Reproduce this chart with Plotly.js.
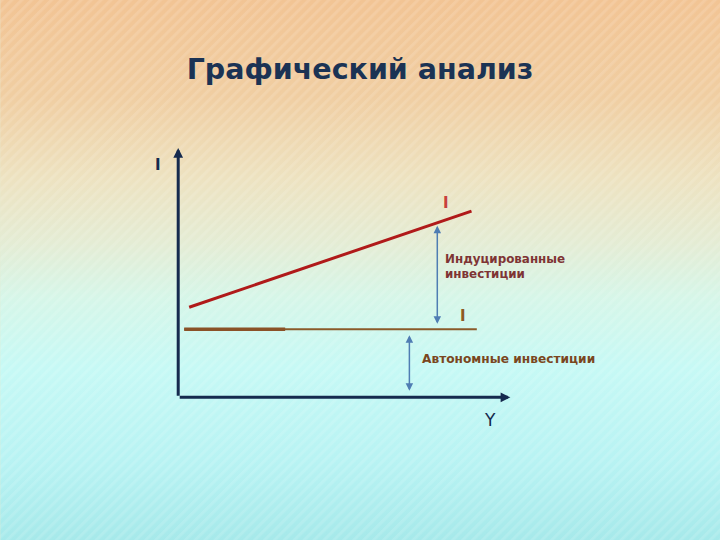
<!DOCTYPE html>
<html>
<head>
<meta charset="utf-8">
<script src="https://cdn.plot.ly/plotly-3.0.1.min.js"></script>
<style>html,body{margin:0;padding:0;}#chart{width:720px;height:540px;}</style>
</head>
<body>
<div id="chart"></div>
<script>
// Induced investment line (income Y vs investment I)
const inducedY = [3.3, 88.3];
const inducedI = [36.4, 75.3];
// Autonomous investment line
const autoY = [1.8, 89.9];
const autoI = [27.5, 27.5];
// Thicker initial part of the autonomous line
const autoBoldY = [1.8, 32.2];
const autoBoldI = [27.5, 27.5];
// Double arrows (x, bottom, top)
const inducedArrow = {x: 78.0, from: 29.1, to: 69.4};
const autoArrow = {x: 69.6, from: 2.0, to: 25.1};
// Labels
const titleText = "Графический анализ";
const axisLabelI = "I";
const axisLabelY = "Y";
const inducedLabel = "Индуцированные<br>инвестиции";
const autoLabel = "Автономные инвестиции";

const svg = "<svg xmlns='http://www.w3.org/2000/svg' width='720' height='540' viewBox='0 0 720 540' preserveAspectRatio='none'>" +
  "<defs><linearGradient id='g' x1='0' y1='0' x2='0' y2='1'>" +
  "<stop offset='0' stop-color='#f2c494'/>" +
  "<stop offset='0.18' stop-color='#f0cea2'/>" +
  "<stop offset='0.33' stop-color='#ede2c0'/>" +
  "<stop offset='0.45' stop-color='#e4ecd4'/>" +
  "<stop offset='0.55' stop-color='#d6f6e8'/>" +
  "<stop offset='0.68' stop-color='#c6f9f5'/>" +
  "<stop offset='0.85' stop-color='#b8f3f3'/>" +
  "<stop offset='1' stop-color='#a6e9ea'/>" +
  "</linearGradient>" +
  "<pattern id='p' width='7' height='7' patternUnits='userSpaceOnUse' patternTransform='rotate(45)'>" +
  "<rect width='3' height='7' fill='white' fill-opacity='0.12'/></pattern></defs>" +
  "<rect width='720' height='540' fill='url(#g)'/>" +
  "<rect width='720' height='540' fill='url(#p)'/></svg>";
const bgUri = "data:image/svg+xml;charset=utf-8," + encodeURIComponent(svg);

// axis scale: 3.32 px per x unit, 2.47 px per y unit; origin at pixel (178, 397)
const xRange = [-10, 102];
const yRange = [-12, 102];
const L = 178 + xRange[0] * 3.32;
const W = (xRange[1] - xRange[0]) * 3.32;
const B = 143 + yRange[0] * 2.47;
const H = (yRange[1] - yRange[0]) * 2.47;
const R = 720 - L - W;
const T = 540 - B - H;

const traces = [
  {x: autoY, y: autoI, mode: 'lines', line: {color: '#8a5a2a', width: 2}, hoverinfo: 'skip'},
  {x: autoBoldY, y: autoBoldI, mode: 'lines', line: {color: '#8a5228', width: 3.5}, hoverinfo: 'skip'},
  {x: inducedY, y: inducedI, mode: 'lines', line: {color: '#b01a1a', width: 3}, hoverinfo: 'skip'}
];

const navy = '#152a4e';
const annotations = [
  // axes arrows
  {x: 0, y: 100.8, ax: 0, ay: 0, axref: 'x', ayref: 'y', xref: 'x', yref: 'y', text: '', showarrow: true,
   arrowhead: 2, arrowsize: 0.65, arrowwidth: 3, arrowcolor: navy, standoff: 0},
  {x: 100, y: 0, ax: 0, ay: 0, axref: 'x', ayref: 'y', xref: 'x', yref: 'y', text: '', showarrow: true,
   arrowhead: 2, arrowsize: 0.65, arrowwidth: 3, arrowcolor: navy, standoff: 0},
  // double arrows
  {x: inducedArrow.x, y: inducedArrow.to, ax: inducedArrow.x, ay: inducedArrow.from, axref: 'x', ayref: 'y',
   xref: 'x', yref: 'y', text: '', showarrow: true, arrowside: 'end+start', arrowhead: 2, arrowsize: 1,
   arrowwidth: 1.5, arrowcolor: '#4f7db3', standoff: 0, startstandoff: 0},
  {x: autoArrow.x, y: autoArrow.to, ax: autoArrow.x, ay: autoArrow.from, axref: 'x', ayref: 'y',
   xref: 'x', yref: 'y', text: '', showarrow: true, arrowside: 'end+start', arrowhead: 2, arrowsize: 1,
   arrowwidth: 1.5, arrowcolor: '#4f7db3', standoff: 0, startstandoff: 0},
  // labels
  {x: -6.0, y: 93.9, xref: 'x', yref: 'y', text: '<b>' + axisLabelI + '</b>', showarrow: false,
   font: {family: 'DejaVu Sans', size: 15, color: navy}},
  {x: 80.7, y: 78.5, xref: 'x', yref: 'y', text: '<b>' + axisLabelI + '</b>', showarrow: false,
   font: {family: 'DejaVu Sans', size: 15, color: '#c8403c'}},
  {x: 85.8, y: 32.8, xref: 'x', yref: 'y', text: '<b>' + axisLabelI + '</b>', showarrow: false,
   font: {family: 'DejaVu Sans', size: 15, color: '#8e5a22'}},
  {x: 94.0, y: -9.3, xref: 'x', yref: 'y', text: axisLabelY, showarrow: false,
   font: {family: 'DejaVu Sans', size: 17, color: navy}},
  {x: 79.7, y: 53.0, xref: 'x', yref: 'y', text: '<b>' + inducedLabel + '</b>', showarrow: false,
   xanchor: 'left', align: 'left',
   font: {family: 'DejaVu Sans', size: 11.9, color: '#7e3434'}},
  {x: 72.7, y: 15.4, xref: 'x', yref: 'y', text: '<b>' + autoLabel + '</b>', showarrow: false,
   xanchor: 'left', align: 'left',
   font: {family: 'DejaVu Sans', size: 12.2, color: '#7a4620'}}
];

const layout = {
  width: 720, height: 540,
  margin: {l: L, r: R, t: T, b: B, pad: 0},
  paper_bgcolor: '#e6ebd0',
  plot_bgcolor: 'rgba(0,0,0,0)',
  showlegend: false,
  title: {text: '<b>' + titleText + '</b>', x: 360 / 720, xanchor: 'center', xref: 'container',
          y: 1 - 69 / 540, yanchor: 'middle', yref: 'container',
          font: {family: 'DejaVu Sans', size: 28.5, color: '#1b3354'}},
  xaxis: {range: xRange, visible: false, fixedrange: true},
  yaxis: {range: yRange, visible: false, fixedrange: true},
  images: [{source: bgUri, xref: 'paper', yref: 'paper', x: -L / W, y: 1 + T / H,
            sizex: 720 / W, sizey: 540 / H, xanchor: 'left', yanchor: 'top', sizing: 'stretch', layer: 'below'}],
  annotations: annotations
};

Plotly.newPlot('chart', traces, layout, {displayModeBar: false, staticPlot: true});
</script>
</body>
</html>
